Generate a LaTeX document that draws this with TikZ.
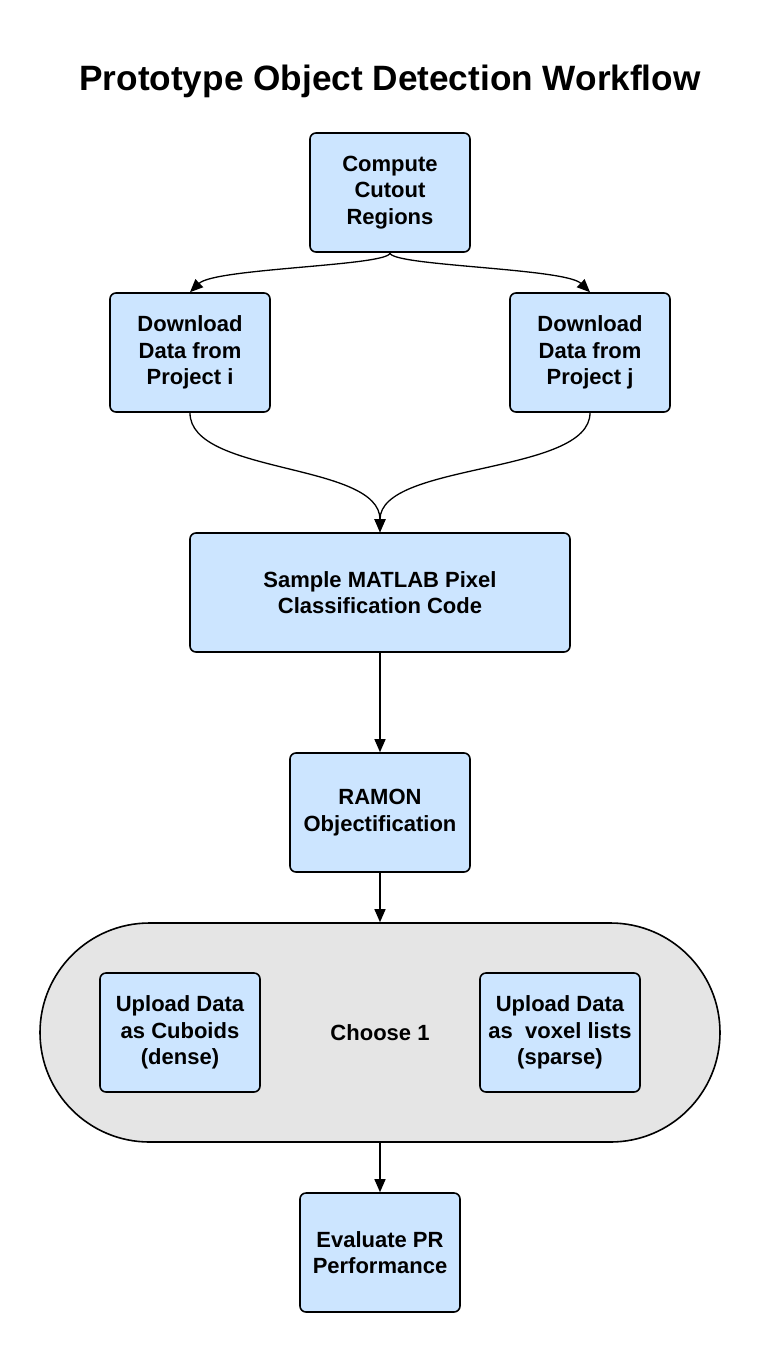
\documentclass[tikz,border=0pt]{standalone}
\usepackage{fontspec}
\setmainfont{Liberation Sans}
\usetikzlibrary{arrows.meta}
\definecolor{boxblue}{RGB}{204,229,255}
\definecolor{ovalgray}{RGB}{229,229,229}
\begin{document}
\begin{tikzpicture}[x=1pt,y=-1pt,
  box/.style={draw=black, fill=boxblue, line width=1.6pt, rounded corners=6pt,
    align=center, font=\fontsize{22}{26.5}\selectfont\bfseries, inner sep=0pt},
  conn/.style={line width=1.3pt, -{Triangle[length=13pt,width=11pt]}}]
\useasboundingbox[fill=white] (0,0) rectangle (760,1353);
\node[font=\fontsize{35.2}{42}\selectfont\bfseries] (title) at (390,81) {Prototype Object Detection Workflow};
\node[box, minimum width=160, minimum height=119] (cc) at (390,192.5) {Compute\\Cutout\\Regions};
\node[box, minimum width=160, minimum height=119] (di) at (190,352.5) {Download\\Data from\\Project i};
\node[box, minimum width=160, minimum height=119] (dj) at (590,352.5) {Download\\Data from\\Project j};
\node[box, minimum width=380, minimum height=119] (smp) at (380,592.5) {Sample MATLAB Pixel\\Classification Code};
\node[box, minimum width=180, minimum height=119] (ram) at (380,812.5) {RAMON\\Objectification};
\node[draw=black, fill=ovalgray, line width=1.6pt, rounded corners=109.5pt, minimum width=680, minimum height=219, inner sep=0pt,
  font=\fontsize{22}{26.5}\selectfont\bfseries] (oval) at (380,1032.5) {Choose 1};
\node[box, minimum width=160, minimum height=119] (ud) at (180,1032.5) {Upload Data\\as Cuboids\\(dense)};
\node[box, minimum width=160, minimum height=119] (us) at (560,1032.5) {Upload Data\\as\ \ voxel lists\\(sparse)};
\node[box, minimum width=160, minimum height=119] (ev) at (380,1252.5) {Evaluate PR\\Performance};
\draw[conn] (cc.south) .. controls (390,266) and (215,268) .. (di.north);
\draw[conn] (cc.south) .. controls (390,266) and (565,268) .. (dj.north);
\draw[conn] (di.south) .. controls (190,475) and (380,462) .. (smp.north);
\draw[conn] (dj.south) .. controls (590,475) and (380,462) .. (smp.north);
\draw[conn] (smp.south) -- (ram.north);
\draw[conn] (ram.south) -- (oval.north);
\draw[conn] (oval.south) -- (ev.north);
\end{tikzpicture}
\end{document}
